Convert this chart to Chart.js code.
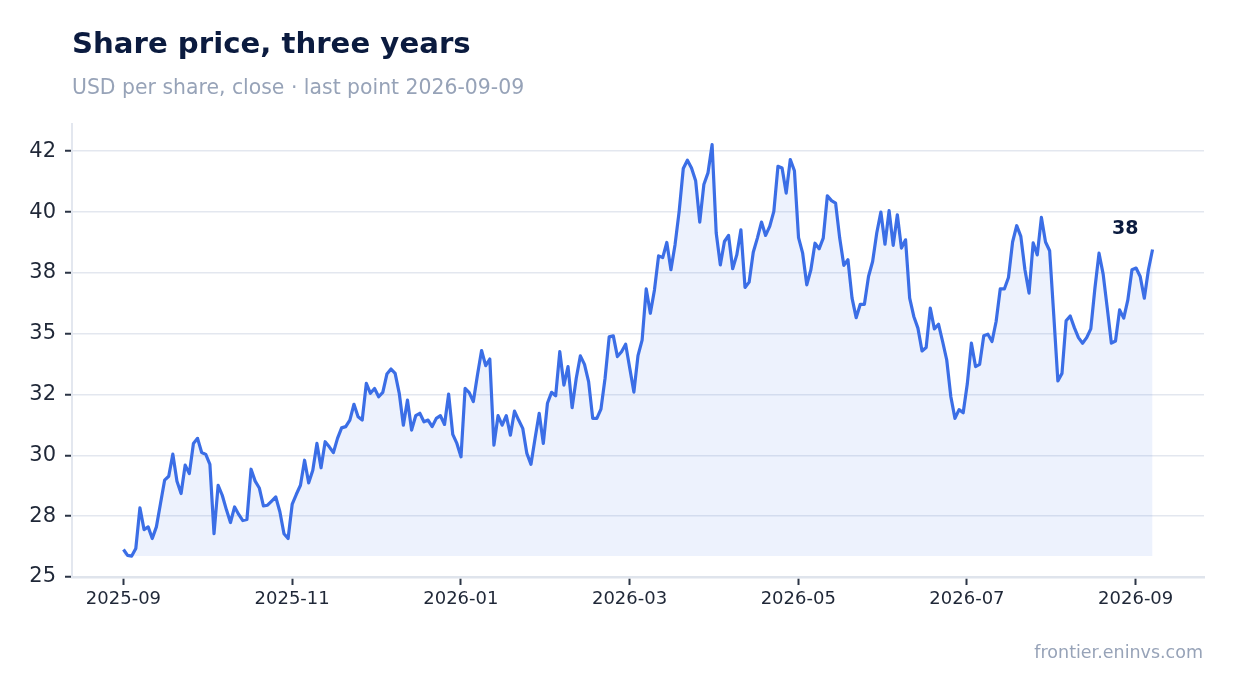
<!DOCTYPE html>
<html>
<head>
<meta charset="utf-8">
<title>Share price, three years</title>
<script src="https://cdn.jsdelivr.net/npm/chart.js@4.4.1/dist/chart.umd.min.js"></script>
<style>
  html, body { margin: 0; padding: 0; background: #fff; }
  #wrap { position: relative; width: 1234px; height: 693px; font-family: "DejaVu Sans", sans-serif; }
  #chart { position: absolute; left: 0; top: 0; }
  .title { position: absolute; left: 72px; top: 29px; font-size: 29.2px; line-height: 1; font-weight: bold; color: #0b1b3f; white-space: nowrap; }
  .subtitle { position: absolute; left: 72px; top: 77px; font-size: 20.4px; line-height: 1; color: #97a3b8; white-space: nowrap; }
  .source { position: absolute; right: 31px; top: 644px; font-size: 17.5px; line-height: 1; color: #97a3b8; white-space: nowrap; }
</style>
</head>
<body>
<div id="wrap">
  <canvas id="chart" width="1234" height="693" style="width:1234px;height:693px"></canvas>
  <div class="title">Share price, three years</div>
  <div class="subtitle">USD per share, close · last point 2026-09-09</div>
  <div class="source">frontier.eninvs.com</div>
</div>
<script>
// where the first and last closes sit on the time axis; points evenly spaced between
var startDate = '2025-09-01';
var endDate = '2026-09-07';

// closing prices, USD
var closes = [
  26.13, 25.89, 25.86, 26.17, 27.84, 26.95, 27.06, 26.58, 27.06, 28.02,
  28.98, 29.14, 30.05, 28.94, 28.43, 29.60, 29.25, 30.49, 30.70, 30.12,
  30.04, 29.63, 26.78, 28.77, 28.36, 27.77, 27.24, 27.88, 27.57, 27.32,
  27.37, 29.43, 28.94, 28.66, 27.92, 27.95, 28.12, 28.29, 27.68, 26.78,
  26.58, 28.00, 28.40, 28.77, 29.80, 28.87, 29.39, 30.49, 29.49, 30.56,
  30.35, 30.11, 30.70, 31.13, 31.18, 31.45, 32.10, 31.59, 31.45, 32.96,
  32.55, 32.75, 32.41, 32.59, 33.34, 33.55, 33.37, 32.55, 31.24, 32.27,
  31.04, 31.63, 31.73, 31.38, 31.45, 31.18, 31.52, 31.63, 31.27, 32.52,
  30.86, 30.49, 29.94, 32.75, 32.58, 32.21, 33.30, 34.31, 33.69, 33.96,
  30.42, 31.63, 31.24, 31.63, 30.83, 31.82, 31.45, 31.11, 30.08, 29.63,
  30.70, 31.73, 30.49, 32.14, 32.59, 32.45, 34.26, 32.89, 33.65, 31.96,
  33.17, 34.09, 33.74, 33.03, 31.52, 31.52, 31.90, 33.17, 34.87, 34.91,
  34.06, 34.26, 34.57, 33.58, 32.60, 34.10, 34.74, 36.84, 35.84, 36.80,
  38.20, 38.13, 38.75, 37.63, 38.66, 40.03, 41.79, 42.13, 41.81, 41.29,
  39.59, 41.13, 41.61, 42.77, 39.14, 37.83, 38.79, 39.04, 37.67, 38.24,
  39.27, 36.90, 37.12, 38.35, 38.93, 39.59, 39.04, 39.41, 40.03, 41.88,
  41.81, 40.78, 42.16, 41.70, 38.95, 38.31, 37.01, 37.63, 38.72, 38.49,
  38.93, 40.67, 40.47, 40.37, 38.93, 37.81, 38.04, 36.46, 35.66, 36.21,
  36.21, 37.35, 37.97, 39.14, 40.00, 38.68, 40.06, 38.63, 39.89, 38.52,
  38.86, 36.46, 35.71, 35.23, 34.29, 34.43, 36.05, 35.20, 35.39, 34.68,
  33.92, 32.41, 31.52, 31.88, 31.75, 32.94, 34.61, 33.65, 33.74, 34.92,
  34.98, 34.68, 35.50, 36.84, 36.84, 37.31, 38.77, 39.44, 39.00, 37.63,
  36.67, 38.73, 38.24, 39.78, 38.77, 38.41, 35.77, 33.06, 33.37, 35.53,
  35.73, 35.25, 34.84, 34.61, 34.84, 35.20, 36.87, 38.31, 37.45, 36.05,
  34.61, 34.70, 35.98, 35.64, 36.39, 37.63, 37.70, 37.35, 36.46, 37.63,
  38.46
];

var xTickDates = ['2025-09-01', '2025-11-01', '2026-01-01', '2026-03-01', '2026-05-01', '2026-07-01', '2026-09-01'];
var xTickLabels = ['2025-09', '2025-11', '2026-01', '2026-03', '2026-05', '2026-07', '2026-09'];
var yTicks = [25, 27.5, 30, 32.5, 35, 37.5, 40, 42.5];
var yTickLabels = ['25', '28', '30', '32', '35', '38', '40', '42'];

// position on the x axis in months since Jan 2025 (every month the same width)
function monthPos(s) {
    var p = s.split('-');
    var y = +p[0], m = +p[1], d = +p[2];
    var dim = new Date(Date.UTC(y, m, 0)).getUTCDate();
    return (y - 2025) * 12 + (m - 1) + (d - 1) / dim;
}

var x0 = monthPos(startDate);
var x1 = monthPos(endDate);
var step = (x1 - x0) / (closes.length - 1);
var points = closes.map(function(v, i) { return { x: x0 + i * step, y: v }; });
var pad = (x1 - x0) * 0.05;
var xTickPos = xTickDates.map(monthPos);
var lastLabel = String(Math.round(closes[closes.length - 1]));

var navy = '#0b1b3f';
var tickText = '#1f2737';
var gridColor = '#e3e7ef';

var lastLabelPlugin = {
    id: 'lastLabel',
    afterDatasetsDraw: function(chart) {
        var meta = chart.getDatasetMeta(0);
        var pt = meta.data[meta.data.length - 1];
        var c = chart.ctx;
        c.save();
        c.font = 'bold 19px "DejaVu Sans"';
        c.fillStyle = navy;
        c.textAlign = 'right';
        c.textBaseline = 'alphabetic';
        c.fillText(lastLabel, pt.x - 14, pt.y - 16);
        c.restore();
    }
};

var ctx = document.getElementById('chart').getContext('2d');
var chart = new Chart(ctx, {
    type: 'line',
    data: {
        datasets: [{
            data: points,
            borderColor: '#3b6ee6',
            borderWidth: 3.2,
            backgroundColor: 'rgba(59, 110, 230, 0.09)',
            fill: { value: Math.min.apply(null, closes) },
            pointRadius: 0,
            tension: 0,
            borderJoinStyle: 'round'
        }]
    },
    options: {
        responsive: false,
        animation: false,
        layout: { padding: { top: 124, right: 30, left: 0, bottom: 0 } },
        plugins: {
            legend: { display: false },
            tooltip: { enabled: false }
        },
        scales: {
            x: {
                type: 'linear',
                min: x0 - pad,
                max: x1 + pad,
                afterBuildTicks: function(scale) {
                    scale.ticks = xTickPos.map(function(v) { return { value: v }; });
                },
                afterFit: function(scale) { scale.height = 116; },
                ticks: {
                    autoSkip: false,
                    maxRotation: 0,
                    padding: 4,
                    color: tickText,
                    font: { family: 'DejaVu Sans', size: 18 },
                    callback: function(v) {
                        var i = xTickPos.indexOf(v);
                        return i >= 0 ? xTickLabels[i] : '';
                    }
                },
                grid: { drawOnChartArea: false, tickLength: 8, tickWidth: 2, tickColor: '#2b3445' },
                border: { color: '#dfe4ec', width: 2.5 }
            },
            y: {
                min: 25,
                max: 43.62,
                afterBuildTicks: function(scale) {
                    scale.ticks = yTicks.map(function(v) { return { value: v }; });
                },
                afterFit: function(scale) { scale.width = 72; },
                ticks: {
                    padding: 9,
                    color: tickText,
                    font: { family: 'DejaVu Sans', size: 21 },
                    callback: function(v) {
                        var i = yTicks.indexOf(v);
                        return i >= 0 ? yTickLabels[i] : '';
                    }
                },
                grid: { color: gridColor, lineWidth: 1.5, tickLength: 7, tickWidth: 2, tickColor: '#2b3445' },
                border: { color: gridColor, width: 2 }
            }
        }
    },
    plugins: [lastLabelPlugin]
});
</script>
</body>
</html>
